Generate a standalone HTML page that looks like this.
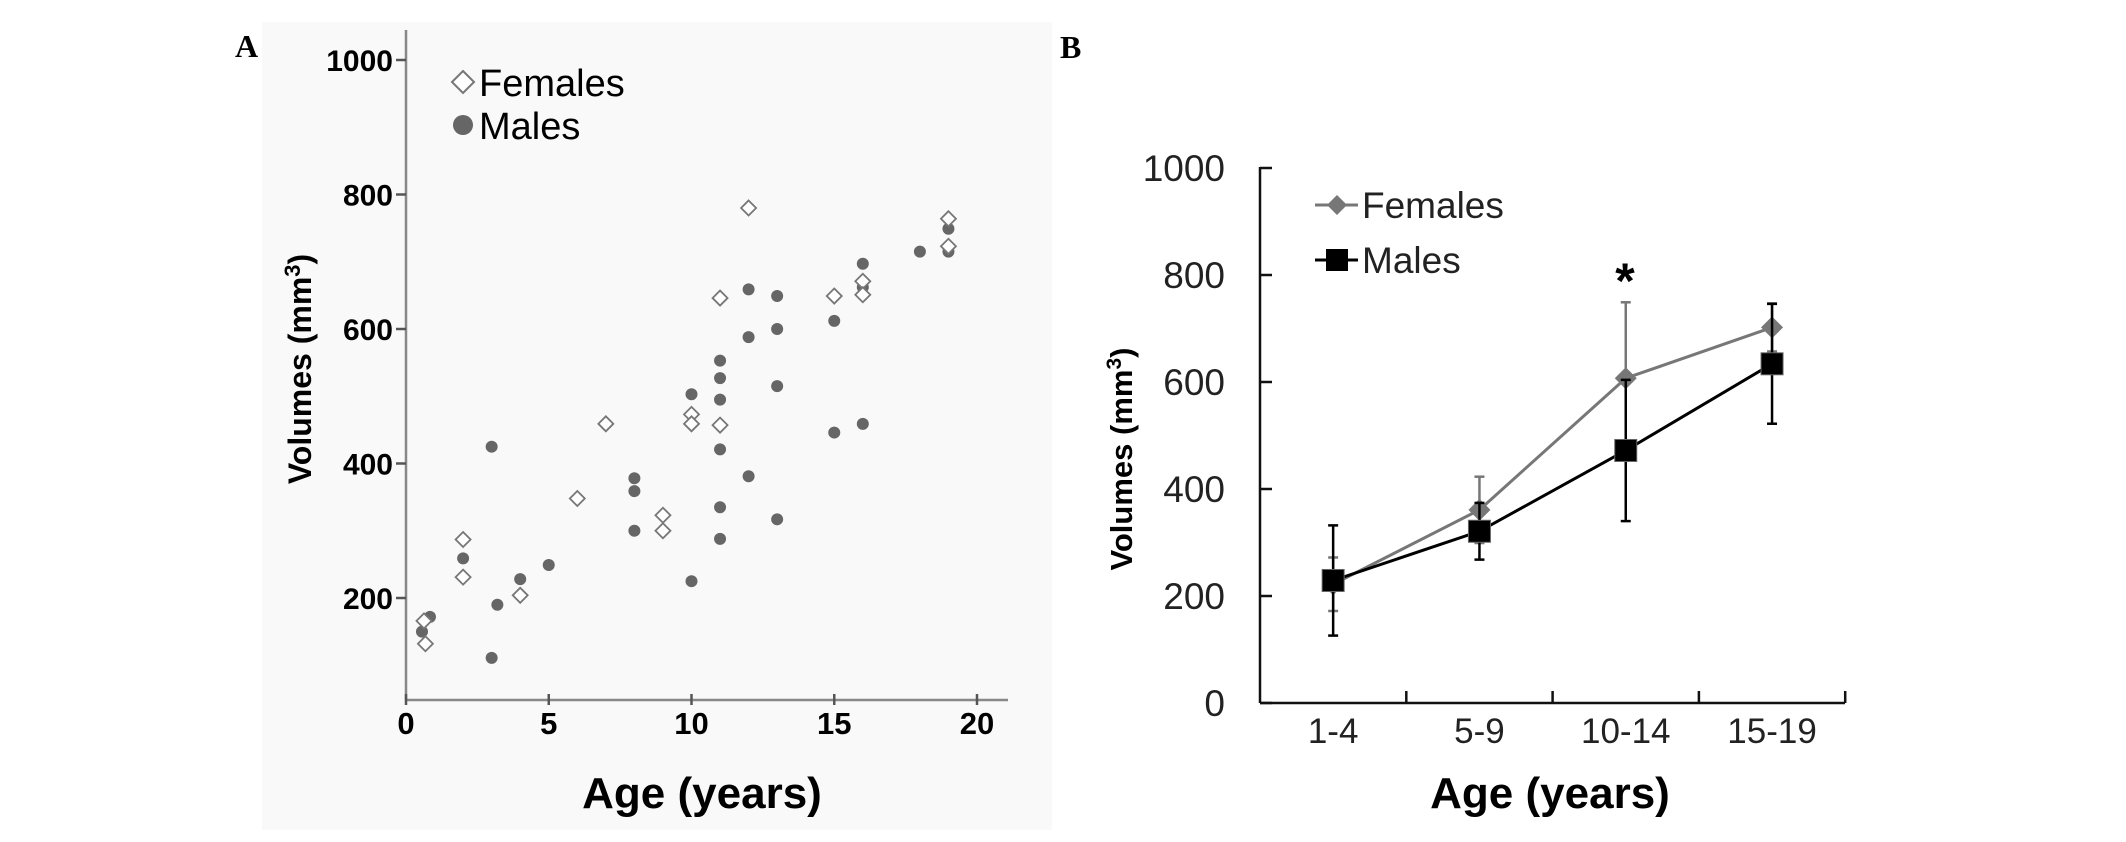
<!DOCTYPE html>
<html><head><meta charset="utf-8"><style>
html,body{margin:0;padding:0;background:#fff;}
svg{display:block;font-family:"Liberation Sans",sans-serif;}
</style></head><body>
<svg id="svg" width="2126" height="842" viewBox="0 0 2126 842" xmlns="http://www.w3.org/2000/svg">
<rect x="262" y="22" width="790" height="808" fill="#f9f9f9"/>
<text x="235" y="57" font-family="Liberation Serif,serif" font-weight="bold" font-size="32">A</text>
<text x="1060" y="58" font-family="Liberation Serif,serif" font-weight="bold" font-size="32">B</text>
<g id="chartA"></g>
<g id="chartB"></g>
</svg>
<script>
// Panel A data
const femAge=[0.63,0.68,2,2,4,6,7,9,9,10,10,11,11,12,15,16,16,19,19];
const femVol=[166,132,287,231,204,348,459,323,300,473,459,646,457,780,649,671,651,764,723];
const maleAge=[0.56,0.84,2,3,3,3.2,4,5,8,8,8,10,10,11,11,11,11,11,11,12,12,12,13,13,13,13,15,15,16,16,16,18,19,19];
const maleVol=[150,172,259,425,111,190,228,249,378,359,300,503,225,553,527,495,421,335,288,659,588,381,649,600,515,317,612,446,697,662,459,715,749,715];
const aXTicks=[0,5,10,15,20];
const aYTicks=[200,400,600,800,1000];
// Panel B data
const cats=["1-4","5-9","10-14","15-19"];
const fMean=[222,361,607,702];
const fErr=[50,62,142,45];
const mMean=[229,321,472,634];
const mErr=[103,53,132,112];
const bYTicks=[0,200,400,600,800,1000];

const NS="http://www.w3.org/2000/svg";
function mk(parent,tag,attrs,text){const e=document.createElementNS(NS,tag);for(const k in attrs)e.setAttribute(k,attrs[k]);if(text!==undefined)e.textContent=text;parent.appendChild(e);return e;}

// ---- Panel A
const A=document.getElementById('chartA');
const ax=v=>406+v*28.55;
const ay=v=>732.5-v*0.6725;
let e;
e=mk(A,'line',{x1:406,y1:30,x2:406,y2:700,stroke:'#888','stroke-width':2.5});


e=mk(A,'line',{x1:406,y1:700,x2:1008,y2:700,stroke:'#888','stroke-width':2.5});


aYTicks.forEach(t=>{
  mk(A,'line',{x1:396,y1:ay(t),x2:406,y2:ay(t),stroke:'#555','stroke-width':2.5});
  e=mk(A,'text',{x:393,y:ay(t)+11,'text-anchor':'end','font-size':30,'font-weight':'bold'},String(t));
  
  
});
aXTicks.forEach(t=>{
  mk(A,'line',{x1:ax(t),y1:694,x2:ax(t),y2:705,stroke:'#555','stroke-width':2.5});
  e=mk(A,'text',{x:ax(t),y:734,'text-anchor':'middle','font-size':31,'font-weight':'bold'},String(t));
  
  
});
maleAge.forEach((a,i)=>{
  e=mk(A,'circle',{cx:ax(a),cy:ay(maleVol[i]),r:6,fill:'#666'});
  
  
});
femAge.forEach((a,i)=>{
  const x=ax(a),y=ay(femVol[i]);
  e=mk(A,'polygon',{points:`${x},${y-7.5} ${x+7.5},${y} ${x},${y+7.5} ${x-7.5},${y}`,fill:'#fff',stroke:'#777','stroke-width':1.8});
  
  
});
e=mk(A,'polygon',{points:'463,71 474,82 463,93 452,82',fill:'#fff',stroke:'#777','stroke-width':2});


e=mk(A,'text',{x:479,y:96,'font-size':38},'Females');


e=mk(A,'circle',{cx:463,cy:125,r:10,fill:'#666'});


e=mk(A,'text',{x:479,y:139,'font-size':38},'Males');


e=mk(A,'text',{x:702,y:808,'text-anchor':'middle','font-size':44,'font-weight':'bold'},'Age (years)');


e=mk(A,'text',{x:0,y:0,'text-anchor':'middle','font-size':32,'font-weight':'bold',transform:'translate(311,369) rotate(-90)'});
e.innerHTML='Volumes (mm<tspan dy="-11" font-size="22">3</tspan><tspan dy="11">)</tspan>';



// ---- Panel B
const B=document.getElementById('chartB');
const bx=i=>1260+146.3*(i+0.5);
const by=v=>703-v*0.535;
e=mk(B,'line',{x1:1260,y1:167,x2:1260,y2:703,stroke:'#111','stroke-width':2.5});


e=mk(B,'line',{x1:1260,y1:703,x2:1845,y2:703,stroke:'#111','stroke-width':2.5});


bYTicks.forEach(t=>{
  mk(B,'line',{x1:1260,y1:by(t),x2:1272,y2:by(t),stroke:'#111','stroke-width':2.5});
  e=mk(B,'text',{x:1225,y:by(t)+13,'text-anchor':'end','font-size':37,fill:'#222'},String(t));
  
  
});
cats.forEach((c,i)=>{
  const tx=1260+146.3*(i+1);
  mk(B,'line',{x1:tx,y1:691,x2:tx,y2:703,stroke:'#111','stroke-width':2.5});
  e=mk(B,'text',{x:bx(i),y:743,'text-anchor':'middle','font-size':35,fill:'#222'},c);
  
  
});
function series(mean,err,color,name,marker){
  const pts=mean.map((v,i)=>bx(i)+','+by(v)).join(' ');
  mean.forEach((v,i)=>{
    const x=bx(i);
    e=mk(B,'line',{x1:x,y1:by(v+err[i]),x2:x,y2:by(v-err[i]),stroke:color,'stroke-width':2.5});
    
    
    mk(B,'line',{x1:x-5,y1:by(v+err[i]),x2:x+5,y2:by(v+err[i]),stroke:color,'stroke-width':2.5});
    mk(B,'line',{x1:x-5,y1:by(v-err[i]),x2:x+5,y2:by(v-err[i]),stroke:color,'stroke-width':2.5});
  });
  e=mk(B,'polyline',{points:pts,fill:'none',stroke:color,'stroke-width':3});
  
  
  mean.forEach((v,i)=>{
    const x=bx(i),y=by(v);
    if(marker==='d') e=mk(B,'polygon',{points:`${x},${y-11} ${x+11},${y} ${x},${y+11} ${x-11},${y}`,fill:color});
    else e=mk(B,'rect',{x:x-11,y:y-11,width:22,height:22,fill:'#000',stroke:'#666','stroke-width':1});
    
    
  });
}
series(fMean,fErr,'#777','female','d');
series(mMean,mErr,'#000','male','s');
e=mk(B,'text',{x:1625,y:298,'text-anchor':'middle','font-size':50,'font-weight':'bold'},'*');


mk(B,'line',{x1:1315,y1:205,x2:1358,y2:205,stroke:'#777','stroke-width':3});
e=mk(B,'polygon',{points:'1337,195 1347,205 1337,215 1327,205',fill:'#777'});


e=mk(B,'text',{x:1362,y:218,'font-size':37,fill:'#222'},'Females');


mk(B,'line',{x1:1315,y1:260,x2:1358,y2:260,stroke:'#000','stroke-width':3});
e=mk(B,'rect',{x:1326,y:249,width:22,height:22,fill:'#000'});


e=mk(B,'text',{x:1362,y:273,'font-size':37,fill:'#222'},'Males');


e=mk(B,'text',{x:1550,y:808,'text-anchor':'middle','font-size':44,'font-weight':'bold'},'Age (years)');


e=mk(B,'text',{x:0,y:0,'text-anchor':'middle','font-size':31,'font-weight':'bold',transform:'translate(1132,459) rotate(-90)'});
e.innerHTML='Volumes (mm<tspan dy="-11" font-size="21">3</tspan><tspan dy="11">)</tspan>';


</script>
</body></html>
